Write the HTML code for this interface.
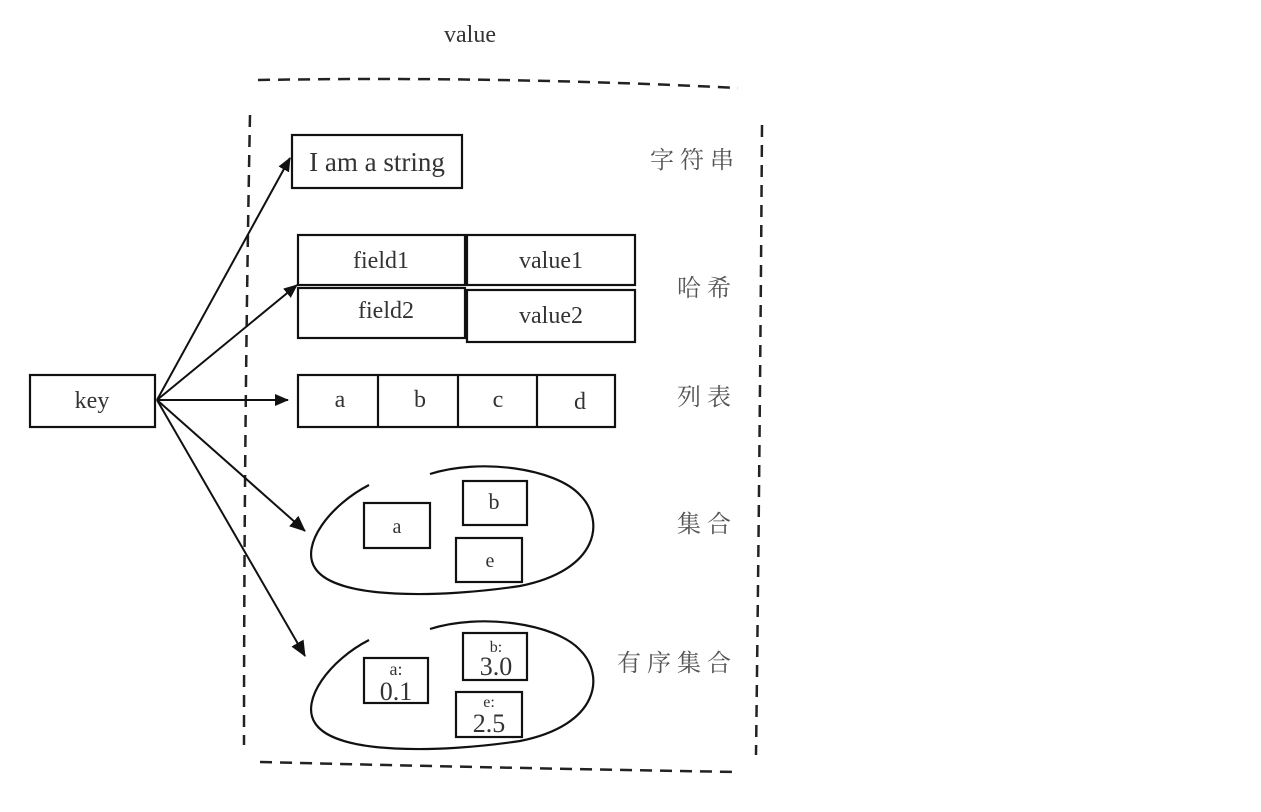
<!DOCTYPE html>
<html><head><meta charset="utf-8"><style>
html,body{margin:0;padding:0;background:#fff;}
svg{display:block;}
text{font-family:"Liberation Serif","Noto Serif CJK SC",serif;fill:#333;}
.cj{fill:#555;font-size:24px;letter-spacing:6px;}
</style></head><body>
<svg width="1261" height="812" viewBox="0 0 1261 812" xmlns="http://www.w3.org/2000/svg">
<defs><marker id="ah" markerWidth="14" markerHeight="12" refX="13" refY="6" orient="auto" markerUnits="userSpaceOnUse"><path d="M0,0 L14,6 L0,12 z" fill="#111"/></marker><marker id="ah2" markerWidth="16" markerHeight="14" refX="15" refY="7" orient="auto" markerUnits="userSpaceOnUse"><path d="M0,0 L16,7 L0,14 z" fill="#111"/></marker></defs>
<text x="470" y="42" font-size="24" text-anchor="middle">value</text>
<g stroke="#222" stroke-width="2.5" stroke-dasharray="12,8" fill="none">
<path d="M258,80 Q500,76 738,88"/>
<path d="M250,115 Q244,430 244,745"/>
<path d="M762,125 Q760,440 756,755"/>
<path d="M260,762 Q500,768 738,772"/>
</g>
<g stroke="#111" stroke-width="2.2" fill="none">
<rect x="30" y="375" width="125" height="52"/>
<rect x="292" y="135" width="170" height="53"/>
<rect x="298" y="235" width="167" height="50"/>
<rect x="467" y="235" width="168" height="50"/>
<rect x="298" y="288" width="167" height="50"/>
<rect x="467" y="290" width="168" height="52"/>
<rect x="298" y="375" width="317" height="52"/>
<line x1="378" y1="375" x2="378" y2="427"/><line x1="458" y1="375" x2="458" y2="427"/><line x1="537" y1="375" x2="537" y2="427"/>
<path d="M369,485 C330,505 300,545 315,568 C335,600 440,598 520,586 C600,570 605,520 580,495 C555,468 480,458 430,474"/>
<path d="M369,640 C330,660 300,700 315,723 C335,755 440,753 520,741 C600,725 605,675 580,650 C555,623 480,613 430,629"/>
<rect x="364" y="503" width="66" height="45"/>
<rect x="463" y="481" width="64" height="44"/>
<rect x="456" y="538" width="66" height="44"/>
<rect x="364" y="658" width="64" height="45"/>
<rect x="463" y="633" width="64" height="47"/>
<rect x="456" y="692" width="66" height="45"/>
</g>
<g stroke="#111" stroke-width="2" fill="none">
<line x1="157" y1="400" x2="290" y2="158" marker-end="url(#ah)"/>
<line x1="157" y1="400" x2="297" y2="285" marker-end="url(#ah)"/>
<line x1="157" y1="400" x2="288" y2="400" marker-end="url(#ah)"/>
<line x1="157" y1="400" x2="305" y2="531" marker-end="url(#ah2)"/>
<line x1="157" y1="400" x2="305" y2="656" marker-end="url(#ah2)"/>
</g>
<g font-size="24" text-anchor="middle">
<text x="92" y="408">key</text>
<text x="377" y="171" font-size="27">I am a string</text>
<text x="381" y="268">field1</text><text x="551" y="268">value1</text>
<text x="386" y="318">field2</text><text x="551" y="323">value2</text>
<text x="340" y="407">a</text><text x="420" y="407">b</text><text x="498" y="407">c</text><text x="580" y="409">d</text>
<text x="397" y="533" font-size="20">a</text><text x="494" y="509" font-size="22">b</text><text x="490" y="567" font-size="20">e</text>
<text x="396" y="675" font-size="18">a:</text><text x="396" y="700" font-size="26">0.1</text>
<text x="496" y="652" font-size="16">b:</text><text x="496" y="675" font-size="26">3.0</text>
<text x="489" y="707" font-size="16">e:</text><text x="489" y="732" font-size="26">2.5</text>
</g>
<text class="cj" x="650" y="168">字符串</text>
<text class="cj" x="677" y="296">哈希</text>
<text class="cj" x="677" y="405">列表</text>
<text class="cj" x="677" y="532">集合</text>
<text class="cj" x="617" y="671">有序集合</text>
</svg>
</body></html>
